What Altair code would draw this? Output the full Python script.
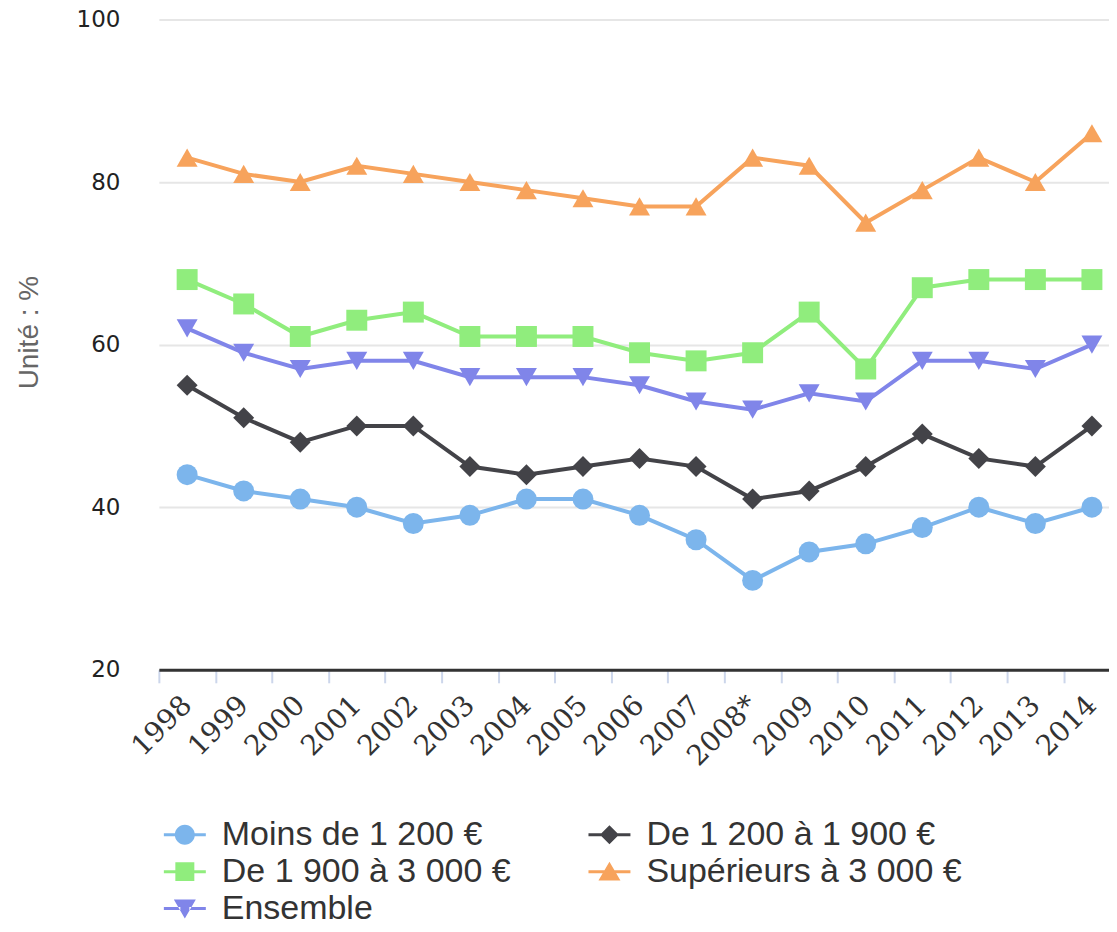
import altair as alt
import pandas as pd

years = ["1998", "1999", "2000", "2001", "2002", "2003", "2004", "2005", "2006",
         "2007", "2008*", "2009", "2010", "2011", "2012", "2013", "2014"]
series = ["Moins de 1 200 €", "De 1 200 à 1 900 €", "De 1 900 à 3 000 €",
          "Supérieurs à 3 000 €", "Ensemble"]
moins_1200 = [44, 42, 41, 40, 38, 39, 41, 41, 39, 36, 31, 34.5, 35.5, 37.5, 40, 38, 40]
de_1200_1900 = [55, 51, 48, 50, 50, 45, 44, 45, 46, 45, 41, 42, 45, 49, 46, 45, 50]
de_1900_3000 = [68, 65, 61, 63, 64, 61, 61, 61, 59, 58, 59, 64, 57, 67, 68, 68, 68]
sup_3000 = [83, 81, 80, 82, 81, 80, 79, 78, 77, 77, 83, 82, 75, 79, 83, 80, 86]
ensemble = [62, 59, 57, 58, 58, 56, 56, 56, 55, 53, 52, 54, 53, 58, 58, 57, 60]
y_ticks = [20, 40, 60, 80, 100]

colors = ["#7cb5ec", "#434348", "#90ed7d", "#f7a35c", "#8085e9"]
shapes = ["circle", "diamond", "square", "triangle-up", "triangle-down"]

line_part = "M-2.1,-0.15L-0.45,-0.15L-0.45,0.15L-2.1,0.15Z M0.45,-0.15L2.1,-0.15L2.1,0.15L0.45,0.15Z "
legend_shapes = [
    line_part + "M-1,0A1,1 0 1,1 1,0A1,1 0 1,1 -1,0Z",
    line_part + "M0,-0.95L0.95,0L0,0.95L-0.95,0Z",
    line_part + "M-0.95,-0.95L0.95,-0.95L0.95,0.95L-0.95,0.95Z",
    line_part + "M0,-1L1.1,0.9L-1.1,0.9Z",
    line_part + "M0,1L1.1,-0.9L-1.1,-0.9Z",
]

values = [moins_1200, de_1200_1900, de_1900_3000, sup_3000, ensemble]
rows = []
for name, vals in zip(series, values):
    for yr, v in zip(years, vals):
        rows.append({"annee": yr, "serie": name, "valeur": v})
df = pd.DataFrame(rows)

step = 56.6
x_enc = alt.X(
    "annee:N", sort=years, title=None,
    scale=alt.Scale(range=[0, step * len(years)], paddingInner=0, paddingOuter=0),
    axis=alt.Axis(
        labelAngle=-45, labelAlign="right", labelBaseline="middle",
        labelFont="DejaVu Serif", labelFontSize=28, labelColor="#333333",
        labelPadding=18, tickBand="extent", tickColor="#ccd6eb", tickWidth=2,
        tickSize=13, domainColor="#333333", domainWidth=3, grid=False,
        labelOverlap=False,
    ),
)
y_enc = alt.Y(
    "valeur:Q",
    scale=alt.Scale(domain=[20, 100], nice=False, zero=False),
    axis=alt.Axis(
        values=y_ticks, title="Unité : %", titleFont="Liberation Sans",
        titleFontSize=28, titleFontWeight="normal", titleColor="#666666",
        titleAngle=270, titleX=-129, titleY=313, titleAlign="center",
        titleBaseline="middle",
        labelFont="DejaVu Sans", labelFontSize=23, labelColor="#222222",
        labelPadding=39, tickSize=0, ticks=False, domain=False,
        gridColor="#e6e6e6", gridWidth=2,
    ),
)

color_plain = alt.Color("serie:N", scale=alt.Scale(domain=series, range=colors), legend=None)
shape_plain = alt.Shape("serie:N", scale=alt.Scale(domain=series, range=shapes), legend=None)

legend_style = dict(
    title=None, orient="none", legendX=9, legendY=799, direction="horizontal",
    columns=2, columnPadding=77, rowPadding=3, symbolSize=400, labelOffset=20,
    labelFont="Liberation Sans", labelFontSize=34, labelColor="#333333",
    labelLimit=0, padding=0, symbolOpacity=1, symbolStrokeWidth=0,
)

base = alt.Chart(df)
lines = base.mark_line(strokeWidth=4).encode(x=x_enc, y=y_enc, color=color_plain,
                                               detail="serie:N")
points = base.mark_point(filled=True, size=440, opacity=1).encode(
    x=x_enc, y=y_enc, color=color_plain, shape=shape_plain)

legend_layer = base.transform_filter("false").mark_point(filled=True, opacity=1).encode(
    x=x_enc, y=y_enc,
    color=alt.Color("serie:N", scale=alt.Scale(domain=series, range=colors),
                    legend=alt.Legend(**legend_style)),
    shape=alt.Shape("serie:N", scale=alt.Scale(domain=series, range=legend_shapes),
                    legend=alt.Legend(**legend_style)),
)

chart = alt.layer(lines, points, legend_layer).resolve_scale(
    color="independent", shape="independent"
).properties(
    width=951, height=651,
    background="white",
    autosize=alt.AutoSizeParams(type="none"),
    padding={"left": 151, "top": 11, "right": 0, "bottom": 254},
).configure_view(strokeWidth=0, stroke="transparent").configure_axisY(
    domain=False
).configure_axisX(grid=False)

chart.save("out.html", embed_options={"renderer": "svg", "actions": False})
